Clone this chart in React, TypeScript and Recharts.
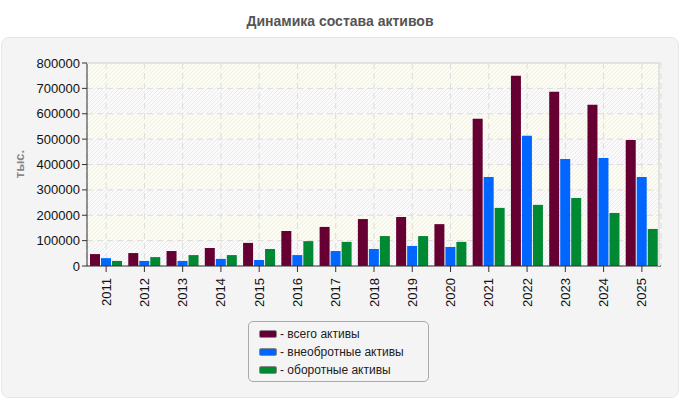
import { BarChart, Bar, XAxis, YAxis, CartesianGrid } from 'recharts';

const years = ['2011', '2012', '2013', '2014', '2015', '2016', '2017', '2018', '2019', '2020', '2021', '2022', '2023', '2024', '2025'];
const totalAssets = [47000, 51000, 59000, 71000, 91000, 138000, 154000, 185000, 193000, 165000, 580000, 750000, 687000, 635000, 497000];
const fixedAssets = [31000, 20000, 20000, 28000, 24000, 43000, 59000, 67000, 79000, 75000, 351000, 513000, 422000, 426000, 351000];
const currentAssets = [20000, 35000, 43000, 43000, 67000, 98000, 95000, 118000, 118000, 95000, 229000, 241000, 268000, 209000, 146000];
const yTicks = [0, 100000, 200000, 300000, 400000, 500000, 600000, 700000, 800000];

const series = [
  { key: 'total', name: 'всего активы', color: '#660033' },
  { key: 'fixed', name: 'внеобротные активы', color: '#0066ff' },
  { key: 'current', name: 'оборотные активы', color: '#008833' },
];

const data = years.map((year, i) => ({
  year,
  total: totalAssets[i],
  fixed: fixedAssets[i],
  current: currentAssets[i],
}));

const font = '"Liberation Sans", Arial, sans-serif';

const YearTick = (props: any) => {
  const { x, y, payload } = props;
  return (
    <g transform={`translate(${x},${y})`}>
      <text
        transform="rotate(-90)"
        x={-4}
        y={0}
        dy="0.35em"
        textAnchor="end"
        fontSize={13}
        fill="#111"
        fontFamily={font}
      >
        {payload.value}
      </text>
    </g>
  );
};

export default function App() {
  return (
    <div style={{ position: 'absolute', left: 0, top: 0, width: 680, height: 400, fontFamily: font }}>
      <svg width={0} height={0} style={{ position: 'absolute' }}>
        <defs>
          <pattern id="hatchCream" patternUnits="userSpaceOnUse" width={4} height={4}>
            <rect width={4} height={4} fill="#fcfcf3" />
            <path d="M-1,1 l2,-2 M0,4 l4,-4 M3,5 l2,-2" stroke="#f0f0ea" strokeWidth={1} />
          </pattern>
          <pattern id="hatchGrey" patternUnits="userSpaceOnUse" width={4} height={4}>
            <rect width={4} height={4} fill="#fafafa" />
            <path d="M-1,1 l2,-2 M0,4 l4,-4 M3,5 l2,-2" stroke="#ebebeb" strokeWidth={1} />
          </pattern>
        </defs>
      </svg>
      <div
        style={{
          position: 'absolute',
          left: 0,
          top: 13,
          width: 680,
          textAlign: 'center',
          fontSize: 14,
          fontWeight: 'bold',
          color: '#555',
        }}
      >
        Динамика состава активов
      </div>
      <div
        style={{
          position: 'absolute',
          left: 1,
          top: 37,
          width: 676,
          height: 359,
          background: '#f4f4f4',
          border: '1px solid #e6e6e6',
          borderRadius: 8,
        }}
      />
      <div style={{ position: 'absolute', left: 0, top: 0 }}>
        <BarChart
          width={680}
          height={400}
          data={data}
          margin={{ top: 63, right: 19, bottom: 0, left: 0 }}
          barSize={10}
          barGap={1}
        >
          <CartesianGrid
            stroke="#dcdcdc"
            strokeDasharray="6 4"
            horizontalFill={['url(#hatchCream)', 'url(#hatchGrey)']}
            fillOpacity={1}
          />
          <XAxis
            dataKey="year"
            height={134}
            interval={0}
            tick={<YearTick />}
            tickSize={6}
            axisLine={{ stroke: '#333' }}
            tickLine={{ stroke: '#333' }}
          />
          <YAxis
            width={87}
            domain={[0, 800000]}
            ticks={yTicks}
            interval={0}
            tickSize={5}
            axisLine={{ stroke: '#333' }}
            tickLine={{ stroke: '#333' }}
            tick={{ fontSize: 13, fill: '#111', fontFamily: font }}
            label={() => (
              <text
                x={19}
                y={164}
                transform="rotate(-90 19 164)"
                textAnchor="middle"
                dominantBaseline="central"
                fontSize={13}
                fontWeight="bold"
                fill="#888"
                fontFamily={font}
              >
                тыс.
              </text>
            )}
          />
          {series.map((s) => (
            <Bar key={s.key} dataKey={s.key} name={s.name} fill={s.color} isAnimationActive={false} />
          ))}
        </BarChart>
      </div>
      <div
        style={{
          position: 'absolute',
          left: 87,
          top: 62,
          width: 573,
          height: 204,
          borderTop: '2px solid #e2e2e2',
          borderRight: '2px solid #e2e2e2',
          boxSizing: 'border-box',
          pointerEvents: 'none',
        }}
      />
      <div
        style={{
          position: 'absolute',
          left: 248,
          top: 321,
          width: 181,
          height: 61,
          border: '1px solid #aaa',
          borderRadius: 5,
          boxSizing: 'border-box',
          background: '#f4f4f4',
          padding: '3px 0 0 10px',
        }}
      >
        {series.map((s) => (
          <div key={s.key} style={{ display: 'flex', alignItems: 'center', height: 18, fontSize: 12, color: '#222' }}>
            <span
              style={{
                display: 'inline-block',
                width: 18,
                height: 8,
                background: s.color,
                borderRadius: 2,
                border: '1px solid #888',
                boxSizing: 'border-box',
                marginRight: 3,
              }}
            />
            - {s.name}
          </div>
        ))}
      </div>
    </div>
  );
}
